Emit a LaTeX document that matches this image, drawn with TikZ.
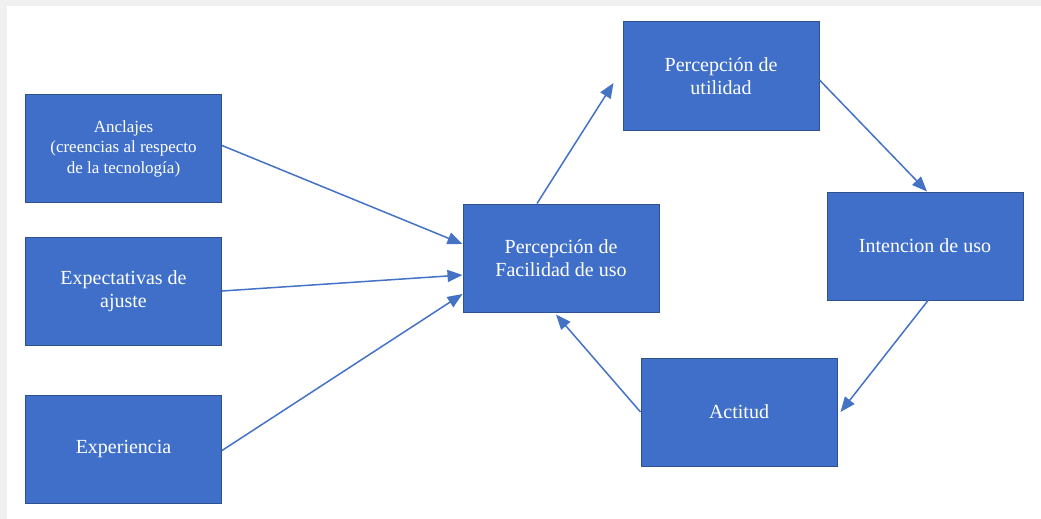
\documentclass[tikz,border=0pt]{standalone}
\usepackage{fontspec}
\setmainfont{Liberation Serif}
\usetikzlibrary{arrows.meta}
\definecolor{boxblue}{HTML}{3F6FC9}
\definecolor{boxedge}{HTML}{2F528F}
\definecolor{arrowblue}{HTML}{4472C4}
\definecolor{framegray}{HTML}{F0F0F0}
\tikzset{
  box/.style={draw=boxedge, line width=1pt, fill=boxblue, text=white,
    minimum width=196pt, minimum height=108pt, align=center, inner sep=2pt,
    font=\fontsize{20}{22.5}\selectfont},
  smallbox/.style={box, font=\fontsize{17}{20.5}\selectfont},
  conn/.style={draw=arrowblue, line width=1.5pt,
    -{Triangle[length=15pt,width=12pt]}}
}
\begin{document}
\begin{tikzpicture}[x=1pt,y=-1pt]
\fill[framegray] (0,0) rectangle (1041,519);
\fill[white] (7,6) rectangle (1041,519);
\useasboundingbox (0,0) rectangle (1041,519);

\node[smallbox] (anc) at (123.5,148.5) {Anclajes\\(creencias al respecto\\de la tecnología)};
\node[box] (expa) at (123.5,291) {Expectativas de\\ajuste};
\node[box] (expe) at (123.5,449.5) {Experiencia};
\node[box] (fac) at (561,258) {Percepción de\\Facilidad de uso};
\node[box] (uti) at (721,76) {Percepción de\\utilidad};
\node[box] (int) at (925,246) {Intencion de uso};
\node[box] (act) at (739,412) {Actitud};

\draw[conn] ([yshift=3pt]anc.east) -- ([yshift=14pt]fac.west);
\draw[conn] (expa.east) -- ([yshift=-17pt]fac.west);
\draw[conn] ([yshift=-1pt]expe.east) -- ([yshift=-36pt]fac.west);
\draw[conn] ([xshift=-24pt]fac.north) -- ([xshift=-9pt,yshift=-7pt]uti.west);
\draw[conn] ([yshift=-4pt]uti.east) -- ([xshift=2pt]int.north);
\draw[conn] ([xshift=3pt]int.south) -- ([xshift=3pt]act.east);
\draw[conn] (act.west) -- ([xshift=-5pt,yshift=-2pt]fac.south);
\end{tikzpicture}
\end{document}
